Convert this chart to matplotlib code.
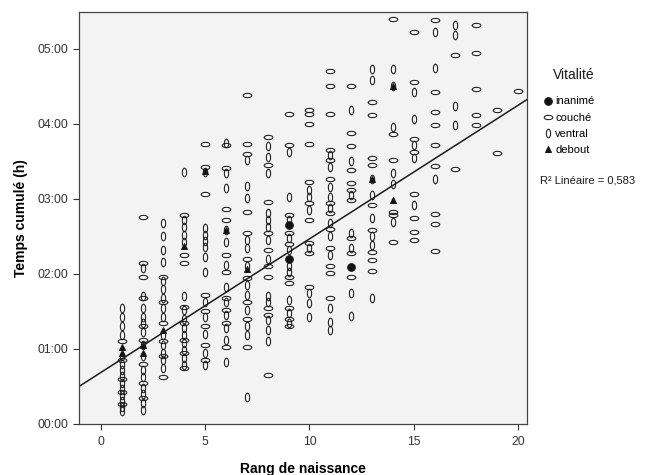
import matplotlib
matplotlib.use("Agg")
import matplotlib.pyplot as plt
from matplotlib.path import Path
from matplotlib.lines import Line2D
from matplotlib.ticker import FuncFormatter

plt.rcParams['font.family'] = ['Liberation Sans', 'DejaVu Sans']

# temps cumulé (heures) par rang de naissance, par vitalité
couche = {
    1: [1.10, 0.85, 0.60, 0.42, 0.26],
    2: [2.76, 2.15, 1.96, 1.68, 1.30, 1.12, 0.80, 0.55, 0.35],
    3: [1.96, 1.62, 1.35, 1.10, 0.90, 0.63],
    4: [2.79, 2.25, 2.15, 1.56, 1.35, 1.12, 0.95, 0.74],
    5: [3.73, 3.42, 3.07, 1.72, 1.50, 1.30, 1.05, 0.85],
    6: [3.72, 3.41, 2.87, 2.72, 2.25, 2.03, 1.68, 1.52, 1.35, 1.03],
    7: [4.39, 3.73, 3.60, 2.83, 2.54, 2.20, 1.95, 1.62, 1.40, 1.03],
    8: [3.83, 3.45, 2.96, 2.54, 2.32, 2.10, 1.96, 1.55, 1.45, 0.65],
    9: [4.13, 3.72, 2.79, 2.55, 2.40, 1.96, 1.88, 1.55, 1.40, 1.30],
    10: [4.18, 4.13, 4.00, 3.73, 3.22, 2.95, 2.72, 2.41, 2.28, 1.83],
    11: [4.71, 4.50, 4.13, 3.65, 3.52, 3.27, 2.95, 2.81, 2.60, 2.35, 2.10, 2.01, 1.68],
    12: [4.50, 3.88, 3.71, 3.39, 3.21, 3.12, 2.99, 2.48, 2.28, 1.96],
    13: [4.29, 4.12, 3.54, 3.45, 2.92, 2.59, 2.29, 2.19, 2.04],
    14: [5.40, 3.87, 3.52, 2.83, 2.79, 2.43],
    15: [5.22, 4.56, 3.80, 3.63, 3.07, 2.75, 2.56, 2.45],
    16: [5.38, 4.43, 4.16, 3.98, 3.72, 3.44, 2.80, 2.66, 2.31],
    17: [4.92, 3.40],
    18: [5.32, 4.94, 4.47, 4.12, 3.99],
    19: [4.19, 3.61],
    20: [4.44],
}
ventral = {
    1: [1.55, 1.42, 1.30, 1.18, 0.90, 0.80, 0.72, 0.64, 0.55, 0.47, 0.38, 0.30, 0.22, 0.17],
    2: [2.08, 1.70, 1.55, 1.43, 1.35, 1.22, 1.05, 0.90, 0.72, 0.62, 0.48, 0.40, 0.28, 0.18],
    3: [2.68, 2.50, 2.32, 2.16, 1.90, 1.80, 1.68, 1.55, 1.42, 1.18, 1.05, 0.95, 0.85, 0.75],
    4: [3.36, 2.72, 2.62, 2.52, 2.42, 1.70, 1.52, 1.40, 1.28, 1.18, 1.08, 0.98, 0.88, 0.78],
    5: [3.36, 2.61, 2.52, 2.44, 2.36, 2.23, 2.03, 1.62, 1.42, 1.20, 0.95, 0.78],
    6: [3.75, 3.35, 3.15, 2.59, 2.43, 2.12, 1.83, 1.62, 1.45, 1.28, 1.12, 0.83],
    7: [3.52, 3.17, 3.01, 2.45, 2.35, 2.10, 1.85, 1.72, 1.52, 1.30, 1.18, 0.36],
    8: [3.70, 3.56, 3.34, 2.81, 2.72, 2.63, 2.45, 2.20, 1.70, 1.62, 1.39, 1.25, 1.10],
    9: [3.63, 3.03, 2.72, 2.48, 2.32, 2.10, 2.02, 1.65, 1.48, 1.35],
    10: [3.12, 3.02, 2.85, 2.35, 1.74, 1.61, 1.42],
    11: [3.58, 3.42, 3.16, 3.03, 2.88, 2.68, 2.50, 2.25, 1.55, 1.36, 1.25],
    12: [4.18, 3.50, 3.05, 2.55, 2.35, 1.74, 1.44],
    13: [4.73, 4.58, 3.27, 3.05, 2.74, 2.50, 2.39, 1.68],
    14: [4.73, 4.51, 3.96, 3.34, 3.20, 2.69],
    15: [4.43, 4.07, 3.72, 3.54, 2.92],
    16: [5.23, 4.74, 3.27],
    17: [5.32, 5.19, 4.24, 3.98],
}
debout = {
    1: [1.03, 0.95],
    2: [0.95, 1.05],
    3: [1.25],
    4: [2.37],
    5: [3.37],
    6: [2.59],
    7: [2.06],
    13: [3.27],
    14: [4.51, 2.98],
}
inanime = {
    9: [2.65, 2.20],
    12: [2.09],
}

fit_intercept = 0.687
fit_slope = 0.178
r2_label = "R² Linéaire = 0,583"

circ = Path.unit_circle()
couche_marker = Path(circ.vertices * [1.0, 0.5], circ.codes)
ventral_marker = Path(circ.vertices * [0.5, 1.0], circ.codes)


def flat(d):
    xs, ys = [], []
    for k, vals in d.items():
        xs += [k] * len(vals)
        ys += vals
    return xs, ys


fig = plt.figure(figsize=(6.52, 4.75), dpi=100)
ax = fig.add_axes([0.1212, 0.1074, 0.6871, 0.8673])
ax.set_facecolor('#f2f3f2')

style = dict(linestyle='none', markeredgecolor='#1a1a1a', markeredgewidth=0.75)
x, y = flat(couche)
ax.plot(x, y, marker=couche_marker, markersize=6.2, markerfacecolor='none', **style)
x, y = flat(ventral)
ax.plot(x, y, marker=ventral_marker, markersize=6.2, markerfacecolor='none', **style)
x, y = flat(debout)
ax.plot(x, y, marker='^', markersize=5, markerfacecolor='#111111', **style)
x, y = flat(inanime)
ax.plot(x, y, marker='o', markersize=5.5, markerfacecolor='#111111', **style)

xlim = (-1.05, 20.43)
ax.plot(xlim, [fit_intercept + fit_slope * v for v in xlim], color='#1a1a1a', lw=1.1)

ax.set_xlim(*xlim)
ax.set_ylim(0, 5.49)
ax.set_xticks([0, 5, 10, 15, 20])
ax.set_yticks([0, 1, 2, 3, 4, 5])
ax.yaxis.set_major_formatter(FuncFormatter(lambda v, p: "%02d:00" % round(v)))
ax.tick_params(direction='out', length=4, width=0.8, color='#333333',
               labelsize=8.8, labelcolor='#333333')
ax.tick_params(axis='x', pad=5)
for s in ax.spines.values():
    s.set_color('#444444')
    s.set_linewidth(0.9)

ax.set_xlabel('Rang de naissance', fontsize=10, fontweight='bold', labelpad=10)
ax.set_ylabel('Temps cumulé (h)', fontsize=10, fontweight='bold', labelpad=7)

handles = [
    Line2D([], [], marker='o', markersize=5.5, markerfacecolor='#111111', **style),
    Line2D([], [], marker=couche_marker, markersize=6.2, markerfacecolor='none', **style),
    Line2D([], [], marker=ventral_marker, markersize=6.2, markerfacecolor='none', **style),
    Line2D([], [], marker='^', markersize=5, markerfacecolor='#111111', **style),
]
fig.text(0.848, 0.842, 'Vitalité', fontsize=10, va='center', ha='left', color='#1a1a1a')
fig.legend(handles, ['inanimé', 'couché', 'ventral', 'debout'],
           loc='upper left', bbox_to_anchor=(0.836, 0.797), frameon=False,
           fontsize=8, handlelength=0.5, handletextpad=0.4, labelspacing=0.55,
           borderaxespad=0, borderpad=0)
fig.text(0.828, 0.621, r2_label, fontsize=8, va='center', ha='left', color='#1a1a1a')

fig.savefig('out.png', dpi=100)
